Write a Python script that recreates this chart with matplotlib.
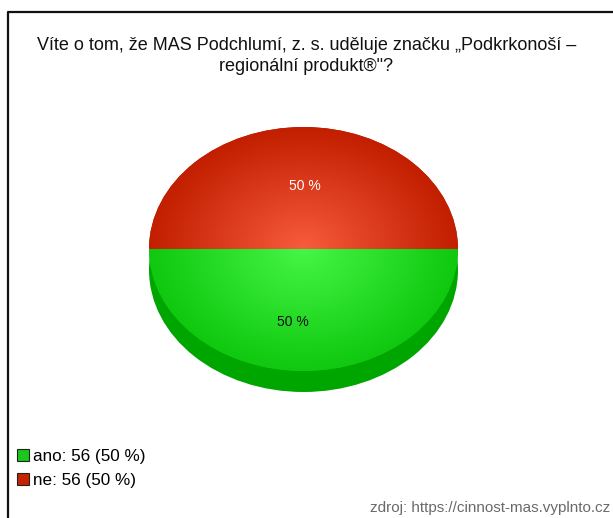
import numpy as np
import matplotlib.pyplot as plt
from matplotlib.patches import Patch
from matplotlib.colors import to_rgb

# data
categories = ['ano', 'ne']
counts = [56, 56]
top_colors_center = ['#46f646', '#f85b3d']
top_colors_edge = ['#0fc80f', '#c21e00']
side_colors = ['#00a600', '#00a600']
legend_colors = ['#19c919', '#c72200']
title = 'Víte o tom, že MAS Podchlumí, z. s. uděluje značku „Podkrkonoší –\nregionální produkt®"?'
source = 'zdroj: https://cinnost-mas.vyplnto.cz'

plt.rcParams['font.family'] = ['Liberation Sans', 'DejaVu Sans']

W, H = 613, 518
fig = plt.figure(figsize=(W / 100, H / 100), dpi=100)

# frame lines (left and top)
bg = fig.add_axes([0, 0, 1, 1])
bg.set_xlim(0, W)
bg.set_ylim(H, 0)
bg.axis('off')
bg.plot([8, 8, W], [H, 12, 12], color='#111111', lw=1.6)

# pie axes in pixel layout
cx, rx = 303.5, 154.5
cy, ry = 249, 122
depth = 21
d = depth / ry
left = (cx - rx) / W
bottom = (H - (cy + ry + depth)) / H
ax = fig.add_axes([left, bottom, 2 * rx / W, (2 * ry + depth) / H])

total = sum(counts)
side, _ = ax.pie(counts, colors=side_colors, startangle=180, counterclock=True,
                 center=(0, -d), wedgeprops=dict(linewidth=0))
wedges, texts, autotexts = ax.pie(counts, colors=top_colors_edge, startangle=180,
                                  counterclock=True,
                                  autopct=lambda p: f'{p:.0f} %', pctdistance=0.56,
                                  textprops=dict(fontsize=10),
                                  wedgeprops=dict(linewidth=0))
ax.set_aspect('auto')
ax.set_xlim(-1, 1)
ax.set_ylim(-1 - d, 1)

# radial shading on top face
gx, gy = np.meshgrid(np.linspace(-1, 1, 300), np.linspace(-1, 1, 300))
r = np.clip(np.sqrt(gx ** 2 + gy ** 2), 0, 1)[..., None]
for w, c0, c1 in zip(wedges, top_colors_center, top_colors_edge):
    img = np.array(to_rgb(c0)) * (1 - r) + np.array(to_rgb(c1)) * r
    im = ax.imshow(img, extent=(-1, 1, -1, 1), origin='lower', aspect='auto',
                   zorder=w.get_zorder() + 0.5, interpolation='bilinear')
    im.set_clip_path(w)

autotexts[0].set_color('#111111')
autotexts[0].set_position((-0.07, -0.6))
autotexts[1].set_color('white')
autotexts[1].set_position((0.01, 0.52))
for t in autotexts:
    t.set_zorder(10)

fig.text(0.5, 1 - 56 / H, title, ha='center', va='center', fontsize=13,
         linespacing=1.3, color='#111111')

handles = [Patch(facecolor=c, edgecolor='#222222', linewidth=0.8) for c in legend_colors]
labels = [f'{c}: {v} ({v / total * 100:.0f} %)' for c, v in zip(categories, counts)]
fig.legend(handles, labels, loc='upper left', bbox_to_anchor=(17 / W, 1 - 449 / H),
           frameon=False, fontsize=12.3, handlelength=0.7, handleheight=0.7,
           handletextpad=0.25, labelspacing=0.5, borderpad=0, borderaxespad=0)

fig.text(1 - 3 / W, 1 - 508 / H, source, ha='right', va='center', fontsize=11,
         color='#6a6a6a')

fig.savefig('out.png', dpi=100)
